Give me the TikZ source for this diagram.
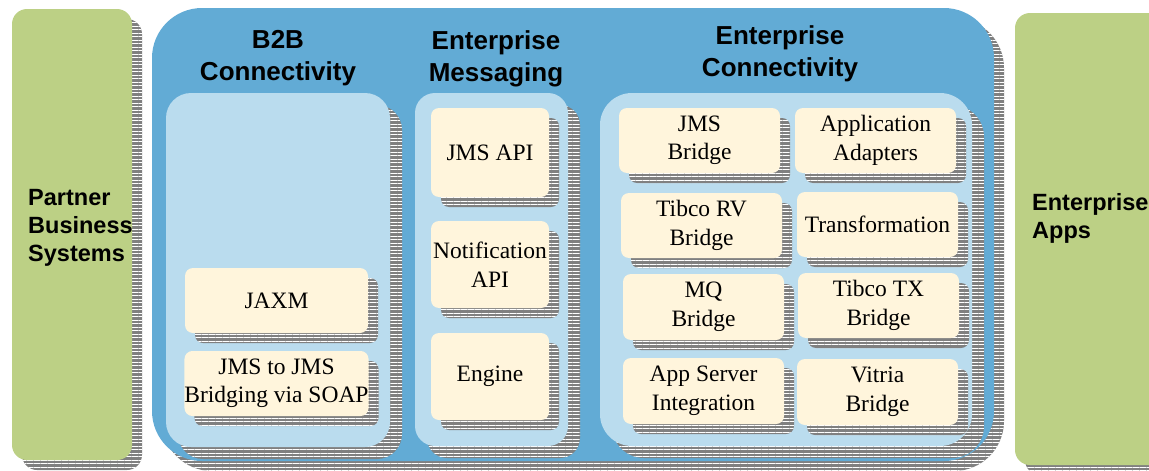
\documentclass[tikz,border=0pt]{standalone}
\usepackage{fontspec}
\setmainfont{Liberation Serif}
\setsansfont{Liberation Sans}
\newfontfamily\boxfont{Liberation Serif}
\newfontfamily\hdrfont{Liberation Sans}
\usetikzlibrary{shadows,patterns.meta}
\definecolor{grn}{HTML}{BCD085}
\definecolor{blu}{HTML}{62ABD5}
\definecolor{lblu}{HTML}{BADCEE}
\definecolor{crm}{HTML}{FFF5DC}
\definecolor{shd}{HTML}{808080}
\tikzset{
  stripeshadow/.style={
    general shadow={fill=shd, shadow xshift=#1, shadow yshift=-#1},
    general shadow={pattern={Lines[distance=3.5pt,line width=1pt]}, pattern color=white, shadow xshift=#1, shadow yshift=-#1}},
  sz/.style 2 args={minimum width=#1pt, minimum height=#2pt},
  basebox/.style={rectangle, inner sep=0pt, draw=none},
  sidebox/.style={basebox, fill=grn, rounded corners=15pt, stripeshadow=10pt},
  bigbox/.style={basebox, fill=blu, rounded corners=50pt, stripeshadow=10pt},
  colbox/.style={basebox, fill=lblu, rounded corners=25pt, stripeshadow=12pt},
  crmbox/.style={basebox, fill=crm, rounded corners=8pt, stripeshadow=10pt, align=center,
    font=\boxfont\fontsize{23.5}{28.5}\selectfont},
  hdr/.style={align=center, font=\hdrfont\bfseries\fontsize{26}{32}\selectfont},
  sidelbl/.style={align=left, anchor=west, inner sep=0pt, font=\hdrfont\bfseries\fontsize{23.5}{28}\selectfont},
}
\begin{document}
\begin{tikzpicture}[x=1pt,y=-1pt]
\useasboundingbox (0,0) rectangle (1149,471);
\clip (0,0) rectangle (1149,471);
% side boxes
\node[sidebox, sz={120}{451}] (partner) at (72,234.5) {};
\node[sidebox, sz={160}{452}] (apps) at (1095,239) {};
\node[sidelbl] (partnerlbl) at (28,228) {Partner\\Business\\Systems};
\node[sidelbl] (appslbl) at (1032,218) {Enterprise\\Apps};
% big blue box
\node[bigbox, sz={842}{453}] (bus) at (573,234.5) {};
% headers
\node[hdr] (h1) at (278,58.5) {B2B\\Connectivity};
\node[hdr] (h2) at (496,58.5) {Enterprise\\Messaging};
\node[hdr] (h3) at (780,54) {Enterprise\\Connectivity};
% column boxes
\node[colbox, sz={224}{354}] (b2b) at (278,270) {};
\node[colbox, rounded corners=20pt, sz={153}{353}] (msg) at (491.5,269.5) {};
\node[colbox, rounded corners=32pt, sz={372}{353}] (ec) at (786,269.5) {};
% B2B
\node[crmbox, sz={183}{65}] (jaxm) at (276.5,300.5) {JAXM};
\node[crmbox, sz={183}{65}] (jms2jms) at (276.5,383.5) {JMS to JMS\\Bridging via SOAP};
% Messaging
\node[crmbox, sz={118}{89}] (jmsapi) at (490,152.5) {JMS API};
\node[crmbox, sz={118}{87}] (notif) at (490,264.5) {Notification\\API};
\node[crmbox, sz={118}{87}] (engine) at (490,376.5) {Engine};
% Enterprise connectivity
\node[crmbox, sz={161}{65}] (jmsbridge) at (699.5,140.5) {JMS\\Bridge};
\node[crmbox, sz={161}{65}] (appadapt) at (875.5,140.5) {Application\\Adapters};
\node[crmbox, sz={161}{65}] (tibcorv) at (701.5,225.5) {Tibco RV\\Bridge};
\node[crmbox, sz={161}{65}] (transform) at (877.5,224.5) {Transformation};
\node[crmbox, sz={161}{66}] (mq) at (703.5,307) {MQ\\Bridge};
\node[crmbox, sz={161}{65}] (tibcotx) at (878.5,305.5) {Tibco TX\\Bridge};
\node[crmbox, sz={161}{66}] (appserver) at (703.5,391) {App Server\\Integration};
\node[crmbox, sz={161}{66}] (vitria) at (877.5,392) {Vitria\\Bridge};
\end{tikzpicture}
\end{document}
